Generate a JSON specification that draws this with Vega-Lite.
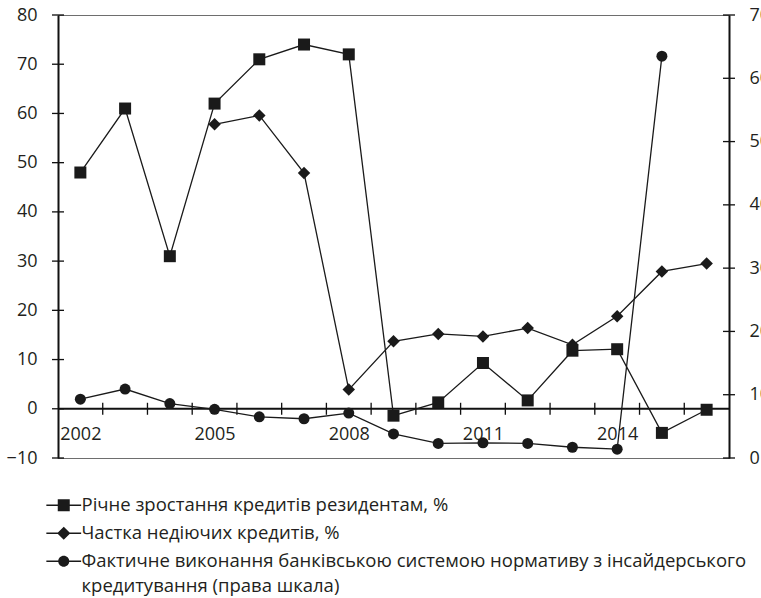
{
  "$schema": "https://vega.github.io/schema/vega-lite/v6.json",
  "width": 671,
  "height": 443,
  "autosize": {"type": "none"},
  "padding": {"left": 58, "top": 15, "right": 32, "bottom": 140},
  "config": {
    "font": "Open Sans",
    "view": {"stroke": "#6e6e6e", "strokeWidth": 1},
    "axis": {
      "labelFont": "Open Sans",
      "labelFontSize": 18,
      "labelColor": "#231f20",
      "grid": false,
      "title": null,
      "domainColor": "#111111",
      "domainWidth": 2,
      "ticks": false
    },
    "legend": {
      "labelFont": "Open Sans",
      "labelFontSize": 18.5,
      "labelColor": "#231f20"
    }
  },
  "datasets": {
    "leftTicks": [{"v": -10}, {"v": 0}, {"v": 10}, {"v": 20}, {"v": 30}, {"v": 40}, {"v": 50}, {"v": 60}, {"v": 70}, {"v": 80}],
    "rightTicks": [{"v": 0}, {"v": 10}, {"v": 20}, {"v": 30}, {"v": 40}, {"v": 50}, {"v": 60}, {"v": 70}],
    "xTicks": [{"v": 2002.5}, {"v": 2003.5}, {"v": 2004.5}, {"v": 2005.5}, {"v": 2006.5}, {"v": 2007.5}, {"v": 2008.5}, {"v": 2009.5}, {"v": 2010.5}, {"v": 2011.5}, {"v": 2012.5}, {"v": 2013.5}, {"v": 2014.5}, {"v": 2015.5}],
    "main": [
      {"year": 2002, "series": "Річне зростання кредитів резидентам, %", "value": 48},
      {"year": 2003, "series": "Річне зростання кредитів резидентам, %", "value": 61},
      {"year": 2004, "series": "Річне зростання кредитів резидентам, %", "value": 31},
      {"year": 2005, "series": "Річне зростання кредитів резидентам, %", "value": 62},
      {"year": 2006, "series": "Річне зростання кредитів резидентам, %", "value": 71},
      {"year": 2007, "series": "Річне зростання кредитів резидентам, %", "value": 74},
      {"year": 2008, "series": "Річне зростання кредитів резидентам, %", "value": 72},
      {"year": 2009, "series": "Річне зростання кредитів резидентам, %", "value": -1.4},
      {"year": 2010, "series": "Річне зростання кредитів резидентам, %", "value": 1.3},
      {"year": 2011, "series": "Річне зростання кредитів резидентам, %", "value": 9.3},
      {"year": 2012, "series": "Річне зростання кредитів резидентам, %", "value": 1.7},
      {"year": 2013, "series": "Річне зростання кредитів резидентам, %", "value": 11.8},
      {"year": 2014, "series": "Річне зростання кредитів резидентам, %", "value": 12.1},
      {"year": 2015, "series": "Річне зростання кредитів резидентам, %", "value": -4.9},
      {"year": 2016, "series": "Річне зростання кредитів резидентам, %", "value": -0.2},
      {"year": 2005, "series": "Частка недіючих кредитів, %", "value": 57.8},
      {"year": 2006, "series": "Частка недіючих кредитів, %", "value": 59.6},
      {"year": 2007, "series": "Частка недіючих кредитів, %", "value": 47.9},
      {"year": 2008, "series": "Частка недіючих кредитів, %", "value": 3.9},
      {"year": 2009, "series": "Частка недіючих кредитів, %", "value": 13.7},
      {"year": 2010, "series": "Частка недіючих кредитів, %", "value": 15.2},
      {"year": 2011, "series": "Частка недіючих кредитів, %", "value": 14.7},
      {"year": 2012, "series": "Частка недіючих кредитів, %", "value": 16.4},
      {"year": 2013, "series": "Частка недіючих кредитів, %", "value": 13.0},
      {"year": 2014, "series": "Частка недіючих кредитів, %", "value": 18.8},
      {"year": 2015, "series": "Частка недіючих кредитів, %", "value": 27.9},
      {"year": 2016, "series": "Частка недіючих кредитів, %", "value": 29.5},
      {"year": 2002, "series": "Фактичне виконання банківською системою нормативу з інсайдерського кредитування (права шкала)", "value": 9.3},
      {"year": 2003, "series": "Фактичне виконання банківською системою нормативу з інсайдерського кредитування (права шкала)", "value": 10.9},
      {"year": 2004, "series": "Фактичне виконання банківською системою нормативу з інсайдерського кредитування (права шкала)", "value": 8.6},
      {"year": 2005, "series": "Фактичне виконання банківською системою нормативу з інсайдерського кредитування (права шкала)", "value": 7.7},
      {"year": 2006, "series": "Фактичне виконання банківською системою нормативу з інсайдерського кредитування (права шкала)", "value": 6.5},
      {"year": 2007, "series": "Фактичне виконання банківською системою нормативу з інсайдерського кредитування (права шкала)", "value": 6.2},
      {"year": 2008, "series": "Фактичне виконання банківською системою нормативу з інсайдерського кредитування (права шкала)", "value": 7.1},
      {"year": 2009, "series": "Фактичне виконання банківською системою нормативу з інсайдерського кредитування (права шкала)", "value": 3.8},
      {"year": 2010, "series": "Фактичне виконання банківською системою нормативу з інсайдерського кредитування (права шкала)", "value": 2.3},
      {"year": 2011, "series": "Фактичне виконання банківською системою нормативу з інсайдерського кредитування (права шкала)", "value": 2.4},
      {"year": 2012, "series": "Фактичне виконання банківською системою нормативу з інсайдерського кредитування (права шкала)", "value": 2.3},
      {"year": 2013, "series": "Фактичне виконання банківською системою нормативу з інсайдерського кредитування (права шкала)", "value": 1.7},
      {"year": 2014, "series": "Фактичне виконання банківською системою нормативу з інсайдерського кредитування (права шкала)", "value": 1.4},
      {"year": 2015, "series": "Фактичне виконання банківською системою нормативу з інсайдерського кредитування (права шкала)", "value": 63.5}
    ]
  },
  "data": {"name": "main"},
  "layer": [
    {
      "layer": [
        {
          "data": {"values": [{}]},
          "mark": {"type": "rule", "color": "#111111", "strokeWidth": 2},
          "encoding": {"y": {"datum": 0, "type": "quantitative"}}
        },
        {
          "data": {"name": "leftTicks"},
          "mark": {"type": "point", "shape": "M-1,-0.11H1V0.11H-1Z", "filled": true, "color": "#111111", "size": 144, "strokeWidth": 0, "opacity": 1},
          "encoding": {
            "x": {"datum": 2001.5, "type": "quantitative"},
            "y": {"field": "v", "type": "quantitative"}
          }
        },
        {
          "data": {"name": "xTicks"},
          "mark": {"type": "point", "shape": "M-0.11,-1H0.11V1H-0.11Z", "filled": true, "color": "#111111", "size": 144, "strokeWidth": 0, "opacity": 1},
          "encoding": {
            "x": {"field": "v", "type": "quantitative"},
            "y": {"datum": 0, "type": "quantitative"}
          }
        },
        {
          "transform": [{"filter": "indexof(datum.series, 'Фактичне') != 0"}],
          "mark": {"type": "line", "color": "#1a1a1a", "strokeWidth": 1.3},
          "encoding": {
            "x": {
              "field": "year", "type": "quantitative",
              "scale": {"domain": [2001.5, 2016.5], "nice": false, "zero": false},
              "axis": {
                "orient": "bottom",
                "offset": -49,
                "domain": false,
                "ticks": false,
                "values": [2002.5, 2003.5, 2004.5, 2005.5, 2006.5, 2007.5, 2008.5, 2009.5, 2010.5, 2011.5, 2012.5, 2013.5, 2014.5, 2015.5],
                "labelExpr": "indexof([2002.5, 2005.5, 2008.5, 2011.5, 2014.5], datum.value) >= 0 ? toString(floor(datum.value)) : ''",
                "labelOffset": -22.4,
                "labelPadding": 16,
                "labelFlush": false,
                "labelOverlap": false
              }
            },
            "y": {
              "field": "value", "type": "quantitative",
              "scale": {"domain": [-10, 80], "nice": false, "zero": false},
              "axis": {
                "orient": "left",
                "ticks": false,
                "values": [-10, 0, 10, 20, 30, 40, 50, 60, 70, 80],
                "labelExpr": "datum.value < 0 ? '−' + toString(abs(datum.value)) : datum.label",
                "labelPadding": 21,
                "labelFlush": false,
                "labelOverlap": false
              }
            },
            "detail": {"field": "series", "type": "nominal"}
          }
        },
        {
          "transform": [{"filter": "indexof(datum.series, 'Річне') == 0"}],
          "mark": {"type": "point", "shape": "square", "filled": true, "color": "#1a1a1a", "size": 144, "opacity": 1},
          "encoding": {
            "x": {"field": "year", "type": "quantitative"},
            "y": {"field": "value", "type": "quantitative"}
          }
        },
        {
          "transform": [{"filter": "indexof(datum.series, 'Частка') == 0"}],
          "mark": {"type": "point", "shape": "diamond", "filled": true, "color": "#1a1a1a", "size": 156, "opacity": 1},
          "encoding": {
            "x": {"field": "year", "type": "quantitative"},
            "y": {"field": "value", "type": "quantitative"}
          }
        },
        {
          "transform": [{"filter": "false"}],
          "mark": {"type": "point", "filled": true, "color": "#1a1a1a", "strokeWidth": 0, "opacity": 1},
          "encoding": {
            "x": {"field": "year", "type": "quantitative"},
            "y": {"field": "value", "type": "quantitative"},
            "shape": {
              "field": "series", "type": "nominal",
              "scale": {
                "domain": ["Річне зростання кредитів резидентам, %", "Частка недіючих кредитів, %", "Фактичне виконання банківською системою нормативу з інсайдерського кредитування (права шкала)"],
                "range": [
                  "M-2.9,-0.11H2.9V0.11H-2.9ZM-1,-1H1V1H-1Z",
                  "M-2.9,-0.11H2.9V0.11H-2.9ZM0,-1.1L1.1,0L0,1.1L-1.1,0Z",
                  "M-2.9,-0.11H2.9V0.11H-2.9ZM-0.92,0A0.92,0.92,0,1,1,0.92,0A0.92,0.92,0,1,1,-0.92,0Z"
                ]
              },
              "legend": {
                "orient": "none",
                "legendX": -3.5,
                "legendY": 481,
                "direction": "vertical",
                "title": null,
                "padding": 0,
                "symbolSize": 144,
                "symbolStrokeWidth": 0,
                "symbolFillColor": "#1a1a1a",
                "symbolOpacity": 1,
                "labelOffset": 8.5,
                "labelLimit": 800,
                "rowPadding": 9,
                "labelExpr": "indexof(datum.label, 'Фактичне') == 0 ? ['Фактичне виконання банківською системою нормативу з інсайдерського', 'кредитування (права шкала)'] : datum.label",
                "encoding": {"labels": {"lineHeight": {"value": 25}}}
              }
            }
          }
        }
      ]
    },
    {
      "layer": [
        {
          "data": {"name": "rightTicks"},
          "mark": {"type": "point", "shape": "M-1,-0.11H1V0.11H-1Z", "filled": true, "color": "#111111", "size": 144, "strokeWidth": 0, "opacity": 1},
          "encoding": {
            "x": {"datum": 2016.5, "type": "quantitative"},
            "y": {
              "field": "v", "type": "quantitative",
              "scale": {"domain": [0, 70], "nice": false, "zero": false},
              "axis": {
                "orient": "right",
                "ticks": false,
                "values": [0, 10, 20, 30, 40, 50, 60, 70],
                "labelPadding": 20,
                "labelFlush": false,
                "labelOverlap": false
              }
            }
          }
        },
        {
          "transform": [{"filter": "indexof(datum.series, 'Фактичне') == 0"}],
          "mark": {"type": "line", "color": "#1a1a1a", "strokeWidth": 1.3},
          "encoding": {
            "x": {"field": "year", "type": "quantitative"},
            "y": {"field": "value", "type": "quantitative"}
          }
        },
        {
          "transform": [{"filter": "indexof(datum.series, 'Фактичне') == 0"}],
          "mark": {"type": "point", "shape": "circle", "filled": true, "color": "#1a1a1a", "size": 121, "opacity": 1},
          "encoding": {
            "x": {"field": "year", "type": "quantitative"},
            "y": {"field": "value", "type": "quantitative"}
          }
        }
      ]
    }
  ],
  "resolve": {"scale": {"y": "independent"}}
}
